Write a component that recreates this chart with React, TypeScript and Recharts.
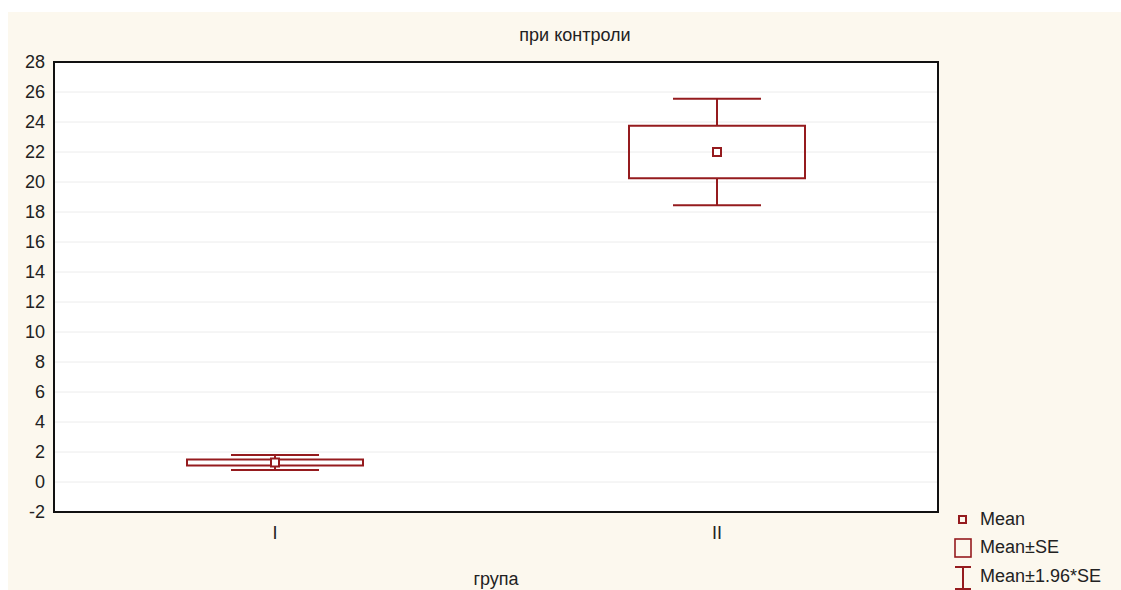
import {
  ComposedChart,
  Bar,
  Scatter,
  XAxis,
  YAxis,
  CartesianGrid,
  ReferenceArea,
} from "recharts";

const groups = ["I", "II"];
const means = [1.3, 22.0];
const seLow = [1.1, 20.25];
const seHigh = [1.5, 23.75];
const ciLow = [0.8, 18.45];
const ciHigh = [1.8, 25.55];
const yTicks = [-2, 0, 2, 4, 6, 8, 10, 12, 14, 16, 18, 20, 22, 24, 26, 28];

const RED = "#951b1e";
const FONT = "Arial, 'Liberation Sans', sans-serif";
const FS = 18;

const data = groups.map((g, i) => ({
  group: g,
  mean: means[i],
  seLow: seLow[i],
  seHigh: seHigh[i],
  ciLow: ciLow[i],
  ciHigh: ciHigh[i],
}));

// whisker range comes from the bar itself, the SE box is placed inside it
function BoxWhisker(props: any) {
  const { x, y, width, height, payload } = props;
  const top = Math.min(y, y + height);
  const h = Math.abs(height);
  const span = payload.ciHigh - payload.ciLow;
  const toY = (v: number) => top + ((payload.ciHigh - v) / span) * h;
  const boxTop = toY(payload.seHigh);
  const boxBottom = toY(payload.seLow);
  const cx = x + width / 2;
  const capHalf = width / 4;
  return (
    <g stroke={RED} strokeWidth={2} fill="none">
      <line x1={cx - capHalf} x2={cx + capHalf} y1={top} y2={top} />
      <line x1={cx - capHalf} x2={cx + capHalf} y1={top + h} y2={top + h} />
      <line x1={cx} x2={cx} y1={top} y2={boxTop} />
      <line x1={cx} x2={cx} y1={boxBottom} y2={top + h} />
      <rect x={x} y={boxTop} width={width} height={boxBottom - boxTop} />
    </g>
  );
}

function MeanMark(props: any) {
  const { cx, cy } = props;
  return (
    <rect x={cx - 4} y={cy - 4} width={8} height={8} fill="#fff" stroke={RED} strokeWidth={2} />
  );
}

const legendRow = { position: "absolute" as const, left: 972, fontSize: FS, color: "#222" };

export default function App() {
  return (
    <div
      style={{
        position: "fixed",
        left: 8,
        top: 12,
        width: 1113,
        height: 578,
        background: "#fcf8ee",
        fontFamily: FONT,
      }}
    >
      <div
        style={{
          position: "absolute",
          left: 0,
          width: 1134,
          top: 13,
          textAlign: "center",
          fontSize: FS,
          color: "#222",
        }}
      >
        при контроли
      </div>
      <ComposedChart
        width={1113}
        height={578}
        data={data}
        margin={{ top: 50, right: 183, left: 0, bottom: 0 }}
        style={{ fontFamily: FONT }}
      >
        <CartesianGrid
          horizontal
          vertical={false}
          stroke="#ececec"
          fill="#ffffff"
          fillOpacity={1}
        />
        <XAxis
          dataKey="group"
          height={78}
          axisLine={{ stroke: "#111", strokeWidth: 2 }}
          tickLine={false}
          tickSize={4}
          tickMargin={10}
          tick={{ fill: "#222", fontSize: FS }}
          label={{ value: "група", position: "insideBottom", offset: 5, fill: "#222", fontSize: FS }}
        />
        <YAxis
          type="number"
          domain={[-2, 28]}
          ticks={yTicks}
          width={46}
          interval={0}
          axisLine={{ stroke: "#111", strokeWidth: 2 }}
          tickLine={false}
          tickSize={4}
          tickMargin={5}
          tick={{ fill: "#222", fontSize: FS }}
        />
        <ReferenceArea
          y1={-2}
          y2={28}
          fill="none"
          stroke="#111"
          strokeWidth={2}
          ifOverflow="visible"
        />
        <Bar
          dataKey={(d: any) => [d.ciLow, d.ciHigh]}
          barSize={176}
          shape={<BoxWhisker />}
          isAnimationActive={false}
        />
        <Scatter dataKey="mean" shape={<MeanMark />} isAnimationActive={false} />
      </ComposedChart>

      <div style={{ ...legendRow, top: 497 }}>Mean</div>
      <div style={{ ...legendRow, top: 525 }}>Mean±SE</div>
      <div style={{ ...legendRow, top: 554 }}>Mean±1.96*SE</div>
      <svg style={{ position: "absolute", left: 945, top: 500 }} width={22} height={78}>
        <rect x={6} y={4} width={7} height={7} fill="none" stroke={RED} strokeWidth={2} />
        <rect x={2} y={27} width={16} height={18} fill="none" stroke={RED} strokeWidth={1.6} />
        <g stroke={RED} strokeWidth={2}>
          <line x1={2} x2={18} y1={55} y2={55} />
          <line x1={2} x2={18} y1={77} y2={77} />
          <line x1={10} x2={10} y1={55} y2={77} />
        </g>
      </svg>
    </div>
  );
}
